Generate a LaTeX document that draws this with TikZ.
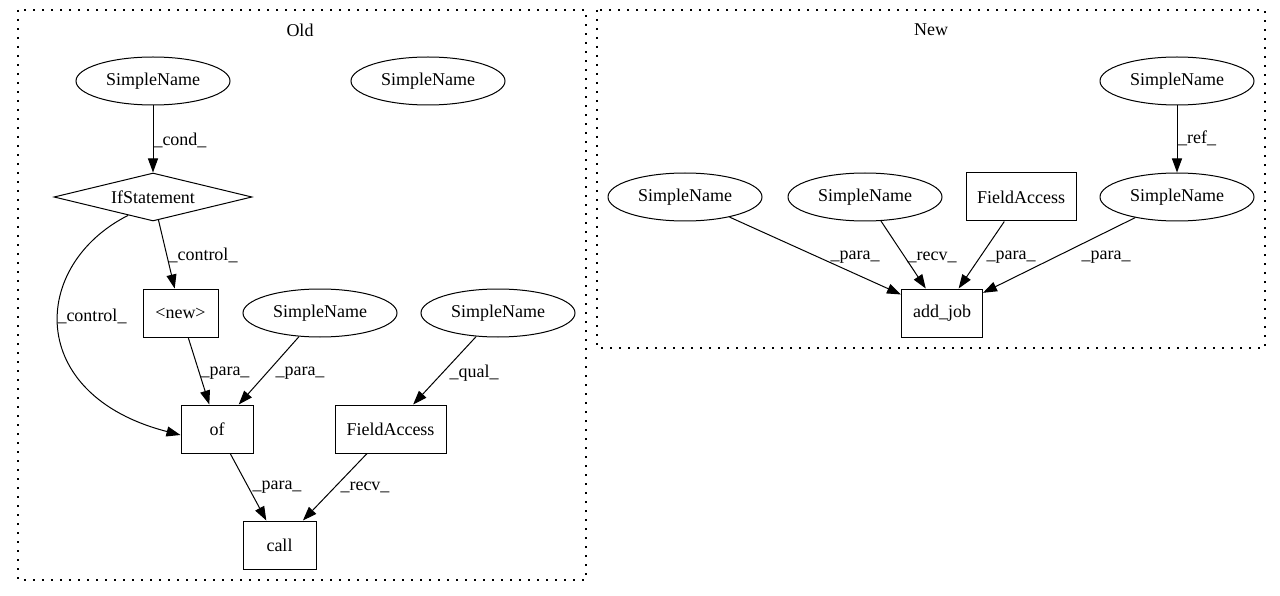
\documentclass[tikz,border=0pt]{standalone}
\usepackage{fontspec}
\setmainfont{Liberation Serif}
\usetikzlibrary{shapes.geometric,arrows.meta,calc}
\begin{document}
\begin{tikzpicture}[x=1pt,y=-1pt,
  every node/.style={font=\fontsize{18}{20}\selectfont},
  sn/.style={draw,ellipse,minimum width=154pt,minimum height=48pt,inner sep=0pt,line width=1pt},
  bx/.style={draw,rectangle,minimum height=48pt,inner sep=0pt,line width=1pt},
  ifs/.style={draw,diamond,aspect=4.125,minimum width=198pt,minimum height=48pt,inner sep=0pt,line width=1pt},
  ed/.style={-{Triangle[length=14pt,width=10pt]},line width=1pt},
  lbl/.style={inner sep=0pt},
  cluster/.style={line width=1.4pt,dash pattern=on 1.6pt off 7.4pt},
  title/.style={inner sep=0pt}]
\useasboundingbox (0,0) rectangle (1280,596);
% clusters
\draw[cluster] (18,10) rectangle (586,580);
\draw[cluster] (597,10) rectangle (1265,348);
\node[title] (told) at (300,30) {Old};
\node[title] (tnew) at (931,30) {New};
% Old nodes
\node[sn] (o1) at (153,81) {SimpleName};
\node[sn] (o2) at (428,81) {SimpleName};
\node[ifs] (if) at (153,197) {IfStatement};
\node[bx,minimum width=75pt] (new) at (180.5,313) {<new>};
\node[sn] (o3) at (320,313) {SimpleName};
\node[sn] (o4) at (498,313) {SimpleName};
\node[bx,minimum width=72pt] (of) at (217,429) {of};
\node[bx,minimum width=111pt] (fa) at (390.5,429) {FieldAccess};
\node[bx,minimum width=73pt] (call) at (279.5,545) {call};
% Old edges
\draw[ed] (o1) -- (if);
\draw[ed] (if) -- (new);
\coordinate (cs) at ($(if.south)!0.5!(if.south west)$);
\draw[ed] (cs) .. controls (30,265) and (25,395) .. ([yshift=-6pt]of.west);
\draw[ed] (new) -- (of);
\draw[ed] (o3) -- (of);
\draw[ed] (o4) -- (fa);
\draw[ed] (of) -- (call);
\draw[ed] (fa) -- (call);
\node[lbl] (l1) at (180,140) {\_cond\_};
\node[lbl] (l2) at (203,255) {\_control\_};
\node[lbl] (l3) at (92,316) {\_control\_};
\node[lbl] (l4) at (225,373) {\_para\_};
\node[lbl] (l5) at (300,373) {\_para\_};
\node[lbl] (l6) at (474,373) {\_qual\_};
\node[lbl] (l7) at (277,487) {\_para\_};
\node[lbl] (l8) at (365,487) {\_recv\_};
% New nodes
\node[sn] (n0) at (1177,81) {SimpleName};
\node[sn] (n1) at (685,197) {SimpleName};
\node[sn] (n2) at (865,197) {SimpleName};
\node[bx,minimum width=110pt] (nfa) at (1021,197) {FieldAccess};
\node[sn] (n4) at (1177,197) {SimpleName};
\node[bx,minimum width=81pt] (aj) at (942,313) {add\_job};
% New edges
\draw[ed] (n0) -- (n4);
\draw[ed] (n1) -- (aj);
\draw[ed] (n2) -- (aj);
\draw[ed] (nfa) -- (aj);
\draw[ed] (n4) -- (aj);
\node[lbl] (m0) at (1197,138) {\_ref\_};
\node[lbl] (m1) at (855,257) {\_para\_};
\node[lbl] (m2) at (932,257) {\_recv\_};
\node[lbl] (m3) at (1011,257) {\_para\_};
\node[lbl] (m4) at (1106,257) {\_para\_};
\end{tikzpicture}
\end{document}
